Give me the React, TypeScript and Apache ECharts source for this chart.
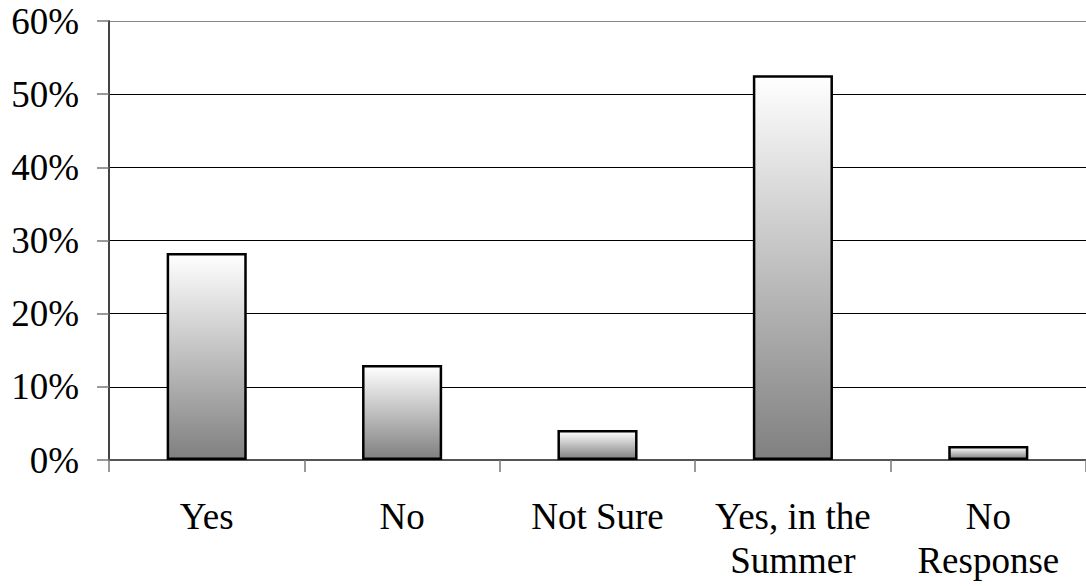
import React, { useEffect, useRef } from "react";
import * as echarts from "echarts";

const categories = ["Yes", "No", "Not Sure", "Yes, in the\nSummer", "No\nResponse"];
const values = [28.3, 13.0, 4.1, 52.6, 1.9];
const yMax = 60;
const yInterval = 10;

export default function App() {
  const ref = useRef<HTMLDivElement>(null);
  useEffect(() => {
    if (!ref.current) return;
    const chart = echarts.init(ref.current, undefined, { renderer: "svg" });
    const font = "'Liberation Serif', 'Times New Roman', serif";
    chart.setOption({
      animation: false,
      backgroundColor: "#ffffff",
      grid: { left: 109, right: -1, top: 21, bottom: 126, containLabel: false },
      xAxis: {
        type: "category",
        data: categories,
        axisLine: { show: true, lineStyle: { color: "#555555", width: 2 } },
        axisTick: { show: true, alignWithLabel: false, length: 12, lineStyle: { color: "#777777", width: 1.5 } },
        axisLabel: {
          interval: 0,
          color: "#000000",
          fontFamily: font,
          fontSize: 37,
          lineHeight: 44,
          margin: 34,
        },
        splitLine: { show: false },
      },
      yAxis: {
        type: "value",
        min: 0,
        max: yMax,
        interval: yInterval,
        axisLine: { show: true, lineStyle: { color: "#444444", width: 2 } },
        axisTick: { show: true, length: 12, lineStyle: { color: "#777777", width: 1.5 } },
        axisLabel: {
          formatter: "{value}%",
          color: "#000000",
          fontFamily: font,
          fontSize: 37,
          margin: 30,
        },
        splitLine: {
          show: true,
          lineStyle: {
            color: ["#000000", "#000000", "#000000", "#000000", "#000000", "#000000", "#888888"],
            width: 1,
          },
        },
      },
      series: [
        {
          type: "bar",
          data: values,
          barWidth: "41%",
          itemStyle: {
            color: new echarts.graphic.LinearGradient(0, 0, 0, 1, [
              { offset: 0, color: "#ffffff" },
              { offset: 1, color: "#808080" },
            ]),
            borderColor: "#000000",
            borderWidth: 2.5,
          },
        },
      ],
    });
    return () => chart.dispose();
  }, []);
  return (
    <div
      ref={ref}
      style={{ position: "absolute", left: 0, top: 0, width: 1086, height: 586 }}
    />
  );
}
